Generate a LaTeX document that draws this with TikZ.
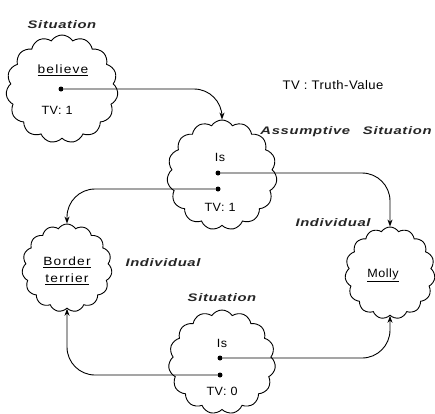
\documentclass[tikz,border=0pt]{standalone}
\usepackage{fontspec}
\setmainfont{Liberation Sans}
\newfontfamily\bodyf[LetterSpace=4,FakeStretch=1.05]{Liberation Sans}
\newfontfamily\wordf[LetterSpace=10,FakeStretch=1.15]{Liberation Sans}
\newfontfamily\labf[LetterSpace=6,FakeStretch=1.35]{Liberation Sans}
\usetikzlibrary{shapes.symbols,arrows.meta}
\tikzset{
  cloudbox/.style={cloud, draw, line width=0.9bp, cloud puffs=15, cloud puff arc=115, cloud ignores aspect, inner sep=0pt},
  dotn/.style={circle, fill, inner sep=0pt, minimum size=5bp},
  conn/.style={line width=0.9bp, rounded corners=28bp, -{Stealth[length=7bp,width=5bp]}},
  body/.style={font=\bodyf\fontsize{12}{14}\selectfont, inner sep=0pt},
  word/.style={font=\wordf\fontsize{12}{17}\selectfont, inner sep=0pt, align=center},
  lab/.style={font=\labf\fontsize{11}{13}\selectfont\bfseries\itshape, inner sep=0pt, text=black!85}
}
\begin{document}
\begin{tikzpicture}[x=1bp,y=-1bp]
\useasboundingbox (0,0) rectangle (435,413);
% clouds
\node[cloudbox, minimum width=112bp, minimum height=108bp] (cb) at (62,89) {};
\node[cloudbox, minimum width=110bp, minimum height=110bp] (ca) at (222,175) {};
\node[cloudbox, minimum width=107bp, minimum height=104bp] (cs) at (222,362) {};
\node[cloudbox, minimum width=90bp, minimum height=88bp] (bt) at (67,268) {};
\node[cloudbox, minimum width=90bp, minimum height=92bp] (mo) at (390,273) {};
% texts inside clouds
\node[word] (tb) at (63,70) {\underline{believe}};
\node[body] (tvb) at (57,110) {TV: 1};
\node[body] (isa) at (220,157) {Is};
\node[body] (tva) at (220,207) {TV: 1};
\node[body] (iss) at (222,343) {Is};
\node[body] (tvs) at (222,391) {TV: 0};
\node[word] (tbt) at (67,271) {\underline{Border}\\\underline{terrier}};
\node[body] (tmo) at (383,275) {\underline{Molly}};
% labels
\node[lab] (l1) at (62,25) {Situation};
\node[body, font=\bodyf\fontsize{12.5}{14}\selectfont] (tvl) at (333,85) {TV : Truth-Value};
\node[lab] (l2) at (346,132) {Assumptive\hspace{8bp} Situation};
\node[lab] (l3) at (333,223) {Individual};
\node[lab] (l4) at (163,263) {Individual};
\node[lab] (l5) at (222,298) {Situation};
% dots
\node[dotn] (db) at (61,89) {};
\node[dotn] (da1) at (218,173) {};
\node[dotn] (da2) at (218,189) {};
\node[dotn] (ds1) at (220,358) {};
\node[dotn] (ds2) at (220,375) {};
% connectors
\draw[conn] (db) -| (ca.north);
\draw[conn] (da1) -| (mo.north);
\draw[conn] (da2) -| (bt.north);
\draw[conn] (ds1) -| (mo.south);
\draw[conn] (ds2) -| (bt.south);
\end{tikzpicture}
\end{document}
